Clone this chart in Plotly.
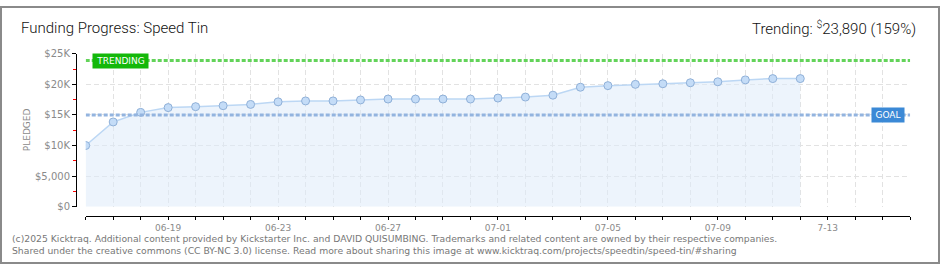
import plotly.graph_objects as go

W, H = 940, 270

dates = ["2025-06-16", "2025-06-17", "2025-06-18", "2025-06-19", "2025-06-20", "2025-06-21",
         "2025-06-22", "2025-06-23", "2025-06-24", "2025-06-25", "2025-06-26", "2025-06-27",
         "2025-06-28", "2025-06-29", "2025-06-30", "2025-07-01", "2025-07-02", "2025-07-03",
         "2025-07-04", "2025-07-05", "2025-07-06", "2025-07-07", "2025-07-08", "2025-07-09",
         "2025-07-10", "2025-07-11", "2025-07-12"]
pledged = [10000, 13850, 15420, 16200, 16350, 16510, 16720, 17140, 17290, 17290,
           17450, 17600, 17600, 17600, 17600, 17760, 17920, 18230, 19530, 19790,
           20000, 20100, 20260, 20420, 20730, 20940, 20940]

axis_days = ["2025-06-16", "2025-06-17", "2025-06-18", "2025-06-19", "2025-06-20", "2025-06-21",
             "2025-06-22", "2025-06-23", "2025-06-24", "2025-06-25", "2025-06-26", "2025-06-27",
             "2025-06-28", "2025-06-29", "2025-06-30", "2025-07-01", "2025-07-02", "2025-07-03",
             "2025-07-04", "2025-07-05", "2025-07-06", "2025-07-07", "2025-07-08", "2025-07-09",
             "2025-07-10", "2025-07-11", "2025-07-12", "2025-07-13", "2025-07-14", "2025-07-15",
             "2025-07-16"]
x_labels = {"2025-06-19": "06-19", "2025-06-23": "06-23", "2025-06-27": "06-27",
            "2025-07-01": "07-01", "2025-07-05": "07-05", "2025-07-09": "07-09",
            "2025-07-13": "7-13"}
y_ticks = [0, 5000, 10000, 15000, 20000, 25000]
y_labels = ["$0", "$5,000", "$10K", "$15K", "$20K", "$25K"]

GOAL = 15000
TRENDING = 23890
TRENDING_PCT = 159

title_text = "Funding Progress: Speed Tin"
footer = ("(c)2025 Kicktraq. Additional content provided by Kickstarter Inc. and DAVID QUISUMBING. "
          "Trademarks and related content are owned by their respective companies.<br>"
          "Shared under the creative commons (CC BY-NC 3.0) license. Read more about sharing this "
          "image at www.kicktraq.com/projects/speedtin/speed-tin/#sharing")

def px(x):
    return x / W

def py(y):
    return (H - y) / H

fig = go.Figure()
fig.add_trace(go.Scatter(
    x=dates, y=pledged, mode="lines+markers",
    fill="tozeroy", fillcolor="rgba(222,235,250,0.55)",
    line=dict(color="#bcd7f4", width=1.5),
    marker=dict(size=8, color="#c4dcf7", line=dict(color="#8fb0d8", width=1)),
    hoverinfo="skip", showlegend=False,
))

grid = "#e2e2e2"
fig.update_layout(
    width=W, height=H, autosize=False,
    margin=dict(l=0, r=0, t=0, b=0),
    paper_bgcolor="white", plot_bgcolor="white",
    xaxis=dict(
        type="date", domain=[px(85.7), px(910.2)],
        range=[axis_days[0], axis_days[-1]],
        anchor="free", position=py(220),
        tickmode="array", tickvals=axis_days,
        ticktext=[x_labels.get(d, "") for d in axis_days],
        ticks="outside", ticklen=3, tickcolor="black", tickwidth=1,
        showline=True, linecolor="black", linewidth=1,
        showgrid=True, gridcolor=grid, griddash="5px,3px", gridwidth=1,
        zeroline=False,
        tickfont=dict(family="DejaVu Sans", size=9, color="#8a8a8a"),
    ),
    yaxis=dict(
        domain=[py(210), py(50)], range=[0, 25000],
        anchor="free", position=px(76),
        tickmode="array", tickvals=y_ticks, ticktext=y_labels,
        ticks="outside", ticklen=4, tickcolor="black", tickwidth=1,
        minor=dict(dtick=2500, ticks="outside", ticklen=3, tickcolor="#ff0000", showgrid=False),
        showline=True, linecolor="black", linewidth=1,
        showgrid=True, gridcolor=grid, griddash="5px,3px", gridwidth=1,
        zeroline=False,
        tickfont=dict(family="DejaVu Sans", size=10, color="#8a8a8a"),
    ),
)

fig.add_shape(type="line", xref="x", yref="y", x0=axis_days[0], x1=axis_days[-1],
              y0=GOAL, y1=GOAL, line=dict(color="#93b4df", width=3, dash="4px,2px"))
fig.add_shape(type="line", xref="x", yref="y", x0=axis_days[0], x1=axis_days[-1],
              y0=TRENDING, y1=TRENDING, line=dict(color="#63d35a", width=3, dash="4px,2px"))

fig.add_shape(type="rect", xref="paper", yref="paper", x0=px(1), x1=px(939), y0=py(269), y1=py(1),
              line=dict(color="#8a8a8a", width=2), layer="above")

fig.add_annotation(xref="paper", yref="y", x=px(120.5), y=TRENDING, text="TRENDING",
                   xanchor="center", yanchor="middle",
                   showarrow=False, bgcolor="#14b80a", width=55, height=14, borderpad=0,
                   font=dict(family="DejaVu Sans", size=9, color="white"))
fig.add_annotation(xref="paper", yref="y", x=px(888), y=GOAL, text="GOAL",
                   xanchor="center", yanchor="middle",
                   showarrow=False, bgcolor="#3b89d6", width=32, height=14, borderpad=0,
                   font=dict(family="DejaVu Sans", size=9, color="white"))

fig.add_annotation(xref="paper", yref="paper", x=px(19), y=py(23), xanchor="left", yanchor="middle",
                   text=title_text, showarrow=False,
                   font=dict(family="Roboto", size=15, color="#111111", weight=300))
fig.add_annotation(xref="paper", yref="paper", x=px(918), y=py(23), xanchor="right", yanchor="middle",
                   text=f"Trending: <sup>$</sup>{TRENDING:,} ({TRENDING_PCT}%)", showarrow=False,
                   font=dict(family="Roboto", size=15, color="#111111", weight=300))

fig.add_annotation(xref="paper", yref="paper", x=px(20), y=py(130), text="PLEDGED",
                   textangle=-90, showarrow=False,
                   font=dict(family="DejaVu Sans", size=9, color="#8a8a8a"))

fig.add_annotation(xref="paper", yref="paper", x=px(10), y=py(249.5), xanchor="left", yanchor="middle",
                   align="left", text=footer, showarrow=False,
                   font=dict(family="DejaVu Sans", size=9.25, color="#777777"))

fig.write_html("out.html")
